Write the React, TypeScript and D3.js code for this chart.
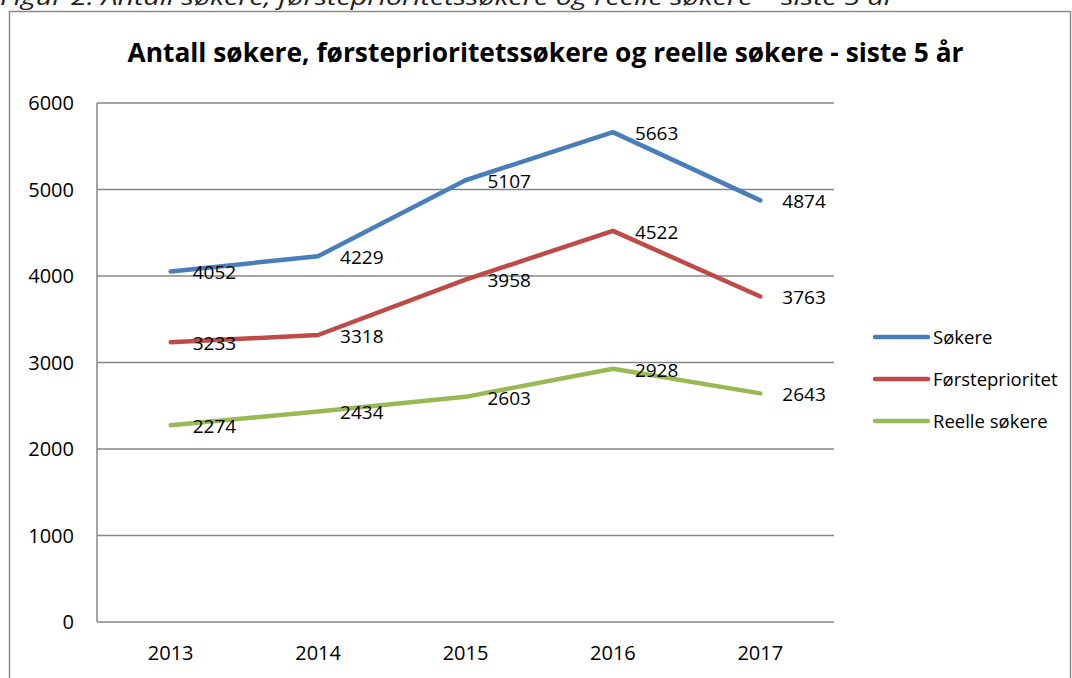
import React from "react";
import * as d3 from "d3";

const years = ["2013", "2014", "2015", "2016", "2017"];
const sokere = [4052, 4229, 5107, 5663, 4874];
const forsteprioritet = [3233, 3318, 3958, 4522, 3763];
const reelle = [2274, 2434, 2603, 2928, 2643];
const seriesNames = ["Søkere", "Førsteprioritet", "Reelle søkere"];
const yTicks = [0, 1000, 2000, 3000, 4000, 5000, 6000];
const titleText = "Antall søkere, førsteprioritetssøkere og reelle søkere - siste 5 år";
const captionText = "Figur 2: Antall søkere, førsteprioritetssøkere og reelle søkere – siste 5 år";

const colors = ["#4A7EBB", "#BE4B48", "#98B954"];
const FONT = "'Open Sans', 'Noto Sans', sans-serif";

export default function App() {
  const W = 1072, H = 678;
  const plot = { left: 97, right: 834, top: 103, bottom: 622 };
  const x = d3.scaleBand<string>().domain(years).range([plot.left, plot.right]);
  const cx = (y: string) => (x(y) as number) + x.bandwidth() / 2;
  const y = d3.scaleLinear().domain([0, 6000]).range([plot.bottom, plot.top]);
  const data = [sokere, forsteprioritet, reelle];
  const line = d3
    .line<number>()
    .x((_, i) => cx(years[i]))
    .y((v) => y(v));

  return (
    <svg
      width={W}
      height={H}
      style={{ position: "absolute", left: 0, top: 0, background: "#fff" }}
      fontFamily={FONT}
    >
      <rect x={0} y={0} width={W} height={H} fill="#fff" />
      <text
        x={0}
        y={5}
        fontSize={21}
        fontStyle="italic"
        fill="#222"
        textLength={895}
        lengthAdjust="spacingAndGlyphs"
      >
        {captionText}
      </text>
      <path d={`M9.5,${H + 2} V11.5 H1070.5 V${H + 2}`} fill="none" stroke="#8a8a8a" strokeWidth={1.5} />
      <text
        x={545.5}
        y={62}
        textAnchor="middle"
        fontSize={27}
        fontWeight="bold"
        fill="#000"
        textLength={836}
        lengthAdjust="spacingAndGlyphs"
      >
        {titleText}
      </text>
      {yTicks.map((t) => (
        <g key={t}>
          <line x1={plot.left} x2={plot.right} y1={y(t)} y2={y(t)} stroke="#878787" strokeWidth={1.5} />
          <text x={74} y={y(t)} dy="0.36em" textAnchor="end" fontSize={20} fill="#000">
            {t}
          </text>
        </g>
      ))}
      <line x1={plot.left} x2={plot.left} y1={plot.top} y2={plot.bottom} stroke="#878787" strokeWidth={1.5} />
      {years.map((yr) => (
        <text key={yr} x={cx(yr)} y={660} textAnchor="middle" fontSize={20} fill="#000">
          {yr}
        </text>
      ))}
      {data.map((s, si) => (
        <path
          key={si}
          d={line(s) as string}
          fill="none"
          stroke={colors[si]}
          strokeWidth={4.5}
          strokeLinecap="round"
          strokeLinejoin="round"
        />
      ))}
      {data.map((s, si) =>
        s.map((v, i) => (
          <text key={`${si}-${i}`} x={cx(years[i]) + 22} y={y(v) + 1} dy="0.36em" fontSize={19} fill="#000">
            {v}
          </text>
        ))
      )}
      {seriesNames.map((n, i) => (
        <g key={n}>
          <line
            x1={875}
            x2={928}
            y1={337 + i * 42}
            y2={337 + i * 42}
            stroke={colors[i]}
            strokeWidth={4.5}
            strokeLinecap="round"
          />
          <text x={933} y={337 + i * 42} dy="0.36em" fontSize={18.5} fill="#000">
            {n}
          </text>
        </g>
      ))}
    </svg>
  );
}
